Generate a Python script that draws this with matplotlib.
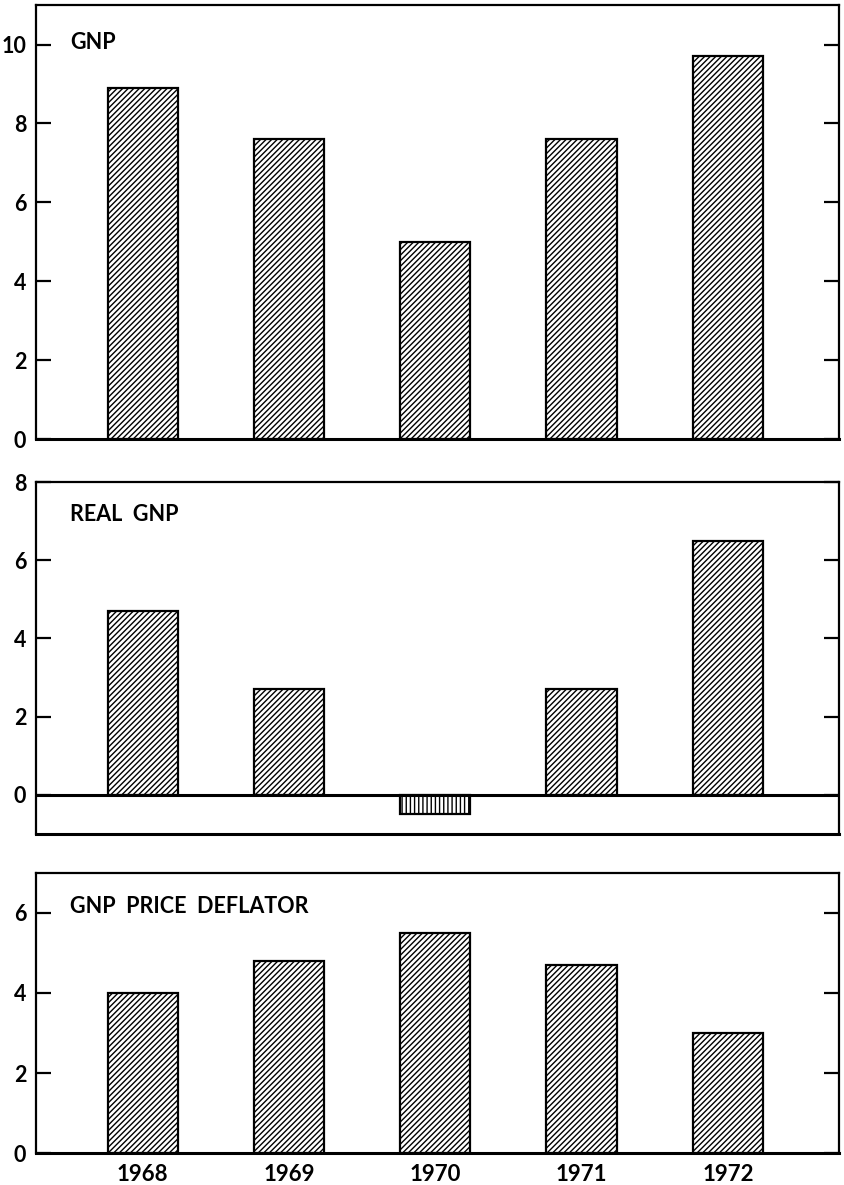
import matplotlib.pyplot as plt

# Data ------------------------------------------------------------------
years = ['1968', '1969', '1970', '1971', '1972']
gnp = [8.9, 7.6, 5.0, 7.6, 9.7]
real_gnp = [4.7, 2.7, -0.5, 2.7, 6.5]
price_deflator = [4.0, 4.8, 5.5, 4.7, 3.0]

plt.rcParams['font.family'] = ['Lato', 'DejaVu Sans']
plt.rcParams['hatch.linewidth'] = 1.0

fig = plt.figure(figsize=(8.44, 11.85), dpi=100)

# panel rectangles (left, bottom, width, height) in figure fraction
rects = [[0.0427, 0.6295, 0.9514, 0.3662],
         [0.0427, 0.2962, 0.9514, 0.2970],
         [0.0427, 0.0270, 0.9514, 0.2363]]
panels = [('GNP', gnp, (0, 11), [0, 2, 4, 6, 8, 10], 10.05),
          ('REAL  GNP', real_gnp, (-1, 8), [0, 2, 4, 6, 8], 7.18),
          ('GNP  PRICE  DEFLATOR', price_deflator, (0, 7), [0, 2, 4, 6], 6.15)]

x = list(range(len(years)))

for i, (title, values, ylim, yticks, label_y) in enumerate(panels):
    ax = fig.add_axes(rects[i])
    bars = ax.bar(x, values, width=0.48, color='white', edgecolor='black',
                  linewidth=1.6)
    for bar, v in zip(bars, values):
        # negative bars get the vertical shading
        bar.set_hatch('||||' if v < 0 else '//////')

    ax.set_xlim(-0.73, 4.76)
    ax.set_ylim(*ylim)
    ax.set_yticks(yticks)
    ax.set_yticklabels([str(t) for t in yticks], fontsize=15.5,
                       fontweight='bold')
    ax.tick_params(axis='y', direction='in', length=11, width=1.6,
                   left=True, right=True, pad=7)
    for side in ['top', 'left', 'right', 'bottom']:
        ax.spines[side].set_linewidth(1.6)
    ax.spines['bottom'].set_linewidth(2.2)

    if ylim[0] < 0:
        ax.axhline(0, color='black', linewidth=2.2)

    ax.text(0.042, label_y, title, fontsize=15.5, fontweight='bold',
            va='center', ha='left', transform=ax.get_yaxis_transform())

    if i == len(panels) - 1:
        ax.set_xticks(x)
        ax.set_xticklabels(years, fontsize=16, fontweight='bold')
        ax.tick_params(axis='x', length=0, pad=8)
    else:
        ax.set_xticks([])

fig.savefig('out.png', dpi=100)
